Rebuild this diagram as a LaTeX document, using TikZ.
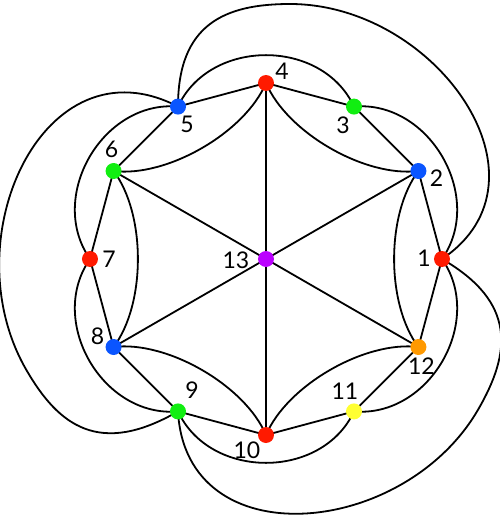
\documentclass[tikz,border=0pt]{standalone}
\usepackage{fontspec}
\setmainfont{Lato}
\usetikzlibrary{backgrounds}
\definecolor{cred}{HTML}{FF1A00}
\definecolor{cblue}{HTML}{0A55FF}
\definecolor{cgreen}{HTML}{11EE11}
\definecolor{corange}{HTML}{FF9900}
\definecolor{cyellow}{HTML}{FFFF33}
\definecolor{cpurple}{HTML}{BB00FF}
\begin{document}
\begin{tikzpicture}[x=1pt,y=1pt,
  vtx/.style={circle,minimum size=16pt,inner sep=0pt},
  lbl/.style={inner sep=0pt,font=\fontsize{23}{23}\selectfont},
  edge/.style={line width=1.8pt}]
\useasboundingbox (-266,-261) rectangle (234,259);
\node[vtx,fill=cred] (n1) at (0:176) {};
\node[vtx,fill=cblue] (n2) at (30:176) {};
\node[vtx,fill=cgreen] (n3) at (60:176) {};
\node[vtx,fill=cred] (n4) at (90:176) {};
\node[vtx,fill=cblue] (n5) at (120:176) {};
\node[vtx,fill=cgreen] (n6) at (150:176) {};
\node[vtx,fill=cred] (n7) at (180:176) {};
\node[vtx,fill=cblue] (n8) at (210:176) {};
\node[vtx,fill=cgreen] (n9) at (240:176) {};
\node[vtx,fill=cred] (n10) at (270:176) {};
\node[vtx,fill=cyellow] (n11) at (300:176) {};
\node[vtx,fill=corange] (n12) at (330:176) {};
\node[vtx,fill=cpurple] (n13) at (0,0) {};
\node[lbl] (l1) at ([shift={(-18,1)}]n1.center) {1};
\node[lbl] (l2) at ([shift={(18,-7)}]n2.center) {2};
\node[lbl] (l3) at ([shift={(-11,-19)}]n3.center) {3};
\node[lbl] (l4) at ([shift={(16,12)}]n4.center) {4};
\node[lbl] (l5) at ([shift={(9,-18)}]n5.center) {5};
\node[lbl] (l6) at ([shift={(-2,22)}]n6.center) {6};
\node[lbl] (l7) at ([shift={(19,0)}]n7.center) {7};
\node[lbl] (l8) at ([shift={(-16,11)}]n8.center) {8};
\node[lbl] (l9) at ([shift={(14,21)}]n9.center) {9};
\node[lbl] (l10) at ([shift={(-19,-15)}]n10.center) {10};
\node[lbl] (l11) at ([shift={(-9,20)}]n11.center) {11};
\node[lbl] (l12) at ([shift={(3,-19)}]n12.center) {12};
\node[lbl] (l13) at ([shift={(-30,-1)}]n13.center) {13};
\begin{pgfonlayer}{background}
\foreach \b in {2,4,6,8,10,12}
  \draw[edge] (n13.center) -- (n\b.center);
\foreach \a/\b in {1/2,2/3,3/4,4/5,5/6,6/7,7/8,8/9,9/10,10/11,11/12,12/1}
  \draw[edge] (n\a.center) -- (n\b.center);
\foreach \r/\a/\b in {0/6/8,60/8/10,120/10/12,180/12/2,240/2/4,300/4/6}
  \draw[edge,rotate=\r] (n\a.center) .. controls (-120,45) and (-120,-45) .. (n\b.center);
\foreach \r/\a/\b in {0/5/3,-60/3/1,-120/1/11,-180/11/9,-240/9/7,-300/7/5}
  \draw[edge,rotate=\r] (n\a.center) .. controls (-56,221) and (56,221) .. (n\b.center);
\foreach \r/\a/\b/\R/\cx/\cy in {0/5/1/255/294/79,120/9/5/263/303/81,240/1/9/259/299/80}
  \draw[edge,rotate=\r] (n\a.center) .. controls (-88,\R-20) and (-41,\R) .. (24,\R)
    .. controls (\R*0.667,\R) and (\cx,\cy) .. (n\b.center);
\end{pgfonlayer}
\end{tikzpicture}
\end{document}
